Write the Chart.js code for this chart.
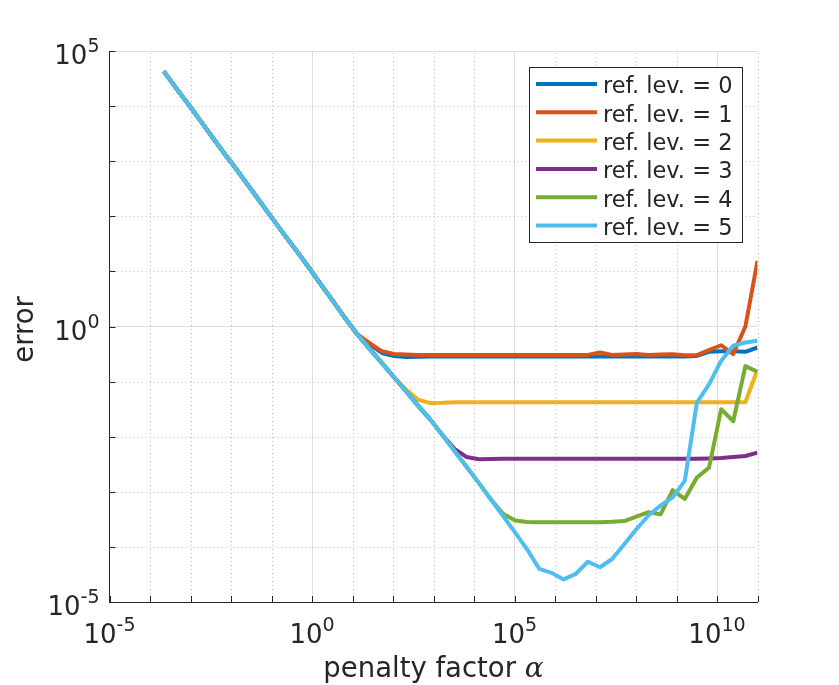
<!DOCTYPE html>
<html><head><meta charset="utf-8">
<script src="https://cdn.jsdelivr.net/npm/chart.js@4.4.1/dist/chart.umd.min.js"></script>
<style>html,body{margin:0;padding:0;background:#fff;}canvas{display:block;}</style>
</head><body>
<canvas id="c" width="839" height="685" style="width:839px;height:685px"></canvas>
<script>
// penalty factor alpha (x values)
const alpha = [2.19e-4, 4.36e-4, 8.68e-4, 1.73e-3, 3.44e-3, 6.85e-3, 1.37e-2, 2.72e-2, 5.41e-2, 0.108,
  0.215, 0.428, 0.851, 1.70, 3.38, 6.73, 13.4, 26.7, 53.1, 106,
  211, 420, 836, 1660, 3310, 6600, 1.31e4, 2.62e4, 5.21e4, 1.04e5,
  2.07e5, 4.12e5, 8.20e5, 1.63e6, 3.25e6, 6.48e6, 1.29e7, 2.57e7, 5.12e7, 1.02e8,
  2.03e8, 4.04e8, 8.05e8, 1.60e9, 3.19e9, 6.36e9, 1.27e10, 2.52e10, 5.02e10, 1.00e11];

// error for each refinement level
const lev0 = [4.27e4, 2.14e4, 1.10e4, 5.50e3, 2.75e3, 1.38e3, 708, 355, 178, 89.1,
  44.7, 22.9, 11.5, 5.62, 2.82, 1.38, 0.708, 0.468, 0.331, 0.292,
  0.279, 0.282, 0.285, 0.285, 0.285, 0.285, 0.285, 0.285, 0.285, 0.285,
  0.285, 0.285, 0.285, 0.285, 0.285, 0.285, 0.285, 0.285, 0.285, 0.285,
  0.285, 0.285, 0.285, 0.285, 0.292, 0.347, 0.355, 0.355, 0.347, 0.417];
const lev1 = [4.27e4, 2.14e4, 1.10e4, 5.50e3, 2.75e3, 1.38e3, 708, 355, 178, 89.1,
  44.7, 22.9, 11.5, 5.62, 2.82, 1.38, 0.708, 0.501, 0.355, 0.316,
  0.309, 0.305, 0.305, 0.305, 0.305, 0.305, 0.305, 0.305, 0.305, 0.305,
  0.305, 0.305, 0.305, 0.305, 0.305, 0.305, 0.339, 0.305, 0.309, 0.316,
  0.305, 0.309, 0.313, 0.302, 0.302, 0.372, 0.457, 0.316, 1.0, 15.5];
const lev2 = [4.27e4, 2.14e4, 1.10e4, 5.50e3, 2.75e3, 1.38e3, 708, 355, 178, 89.1,
  44.7, 22.9, 11.5, 5.62, 2.82, 1.38, 0.708, 0.389, 0.219, 0.120,
  0.0708, 0.0468, 0.0407, 0.0412, 0.0422, 0.0422, 0.0422, 0.0422, 0.0422, 0.0422,
  0.0422, 0.0422, 0.0422, 0.0422, 0.0422, 0.0422, 0.0422, 0.0422, 0.0422, 0.0422,
  0.0422, 0.0422, 0.0422, 0.0422, 0.0422, 0.0422, 0.0422, 0.0422, 0.0422, 0.166];
const lev3 = [4.27e4, 2.14e4, 1.10e4, 5.50e3, 2.75e3, 1.38e3, 708, 355, 178, 89.1,
  44.7, 22.9, 11.5, 5.62, 2.82, 1.38, 0.708, 0.389, 0.219, 0.120,
  0.0661, 0.0363, 0.0204, 0.0107, 0.00603, 0.00427, 0.00389, 0.00394, 0.00398, 0.00398,
  0.00398, 0.00398, 0.00398, 0.00398, 0.00398, 0.00398, 0.00398, 0.00398, 0.00398, 0.00398,
  0.00398, 0.00398, 0.00398, 0.00398, 0.00398, 0.00403, 0.00412, 0.00427, 0.00447, 0.00513];
const lev4 = [4.27e4, 2.14e4, 1.10e4, 5.50e3, 2.75e3, 1.38e3, 708, 355, 178, 89.1,
  44.7, 22.9, 11.5, 5.62, 2.82, 1.38, 0.708, 0.389, 0.219, 0.120,
  0.0661, 0.0363, 0.0204, 0.0107, 0.00550, 0.00282, 0.00145, 7.24e-4, 3.98e-4, 3.02e-4,
  2.82e-4, 2.79e-4, 2.79e-4, 2.79e-4, 2.79e-4, 2.79e-4, 2.79e-4, 2.85e-4, 2.95e-4, 3.55e-4,
  4.27e-4, 3.89e-4, 1.07e-3, 7.41e-4, 1.82e-3, 2.75e-3, 0.0316, 0.0191, 0.191, 0.151];
const lev5 = [4.27e4, 2.14e4, 1.10e4, 5.50e3, 2.75e3, 1.38e3, 708, 355, 178, 89.1,
  44.7, 22.9, 11.5, 5.62, 2.82, 1.38, 0.708, 0.389, 0.219, 0.120,
  0.0661, 0.0363, 0.0204, 0.0107, 0.00550, 0.00282, 0.00145, 7.24e-4, 3.63e-4, 1.82e-4,
  8.91e-5, 3.98e-5, 3.39e-5, 2.57e-5, 3.24e-5, 5.37e-5, 4.27e-5, 6.03e-5, 1.12e-4, 2.09e-4,
  3.72e-4, 5.62e-4, 7.94e-4, 1.58e-3, 0.0417, 0.0891, 0.240, 0.447, 0.513, 0.550];

const seriesValues = [lev0, lev1, lev2, lev3, lev4, lev5];
const seriesLabels = ['ref. lev. = 0', 'ref. lev. = 1', 'ref. lev. = 2', 'ref. lev. = 3', 'ref. lev. = 4', 'ref. lev. = 5'];
const seriesColors = ['#0072BD', '#D95319', '#EDB120', '#7E2F8E', '#77AC30', '#4DBEEE'];

// axis decades (exponents) and labelled ones
const xTickExp = [-5, -4, -3, -2, -1, 0, 1, 2, 3, 4, 5, 6, 7, 8, 9, 10, 11];
const xLabelExp = [-5, 0, 5, 10];
const yTickExp = [-5, -4, -3, -2, -1, 0, 1, 2, 3, 4, 5];
const yLabelExp = [-5, 0, 5];
const xTitle = 'penalty factor ';
const xTitleSym = 'α';
const yTitle = 'error';

const TXT = '#262626';
const FONT = '"DejaVu Sans", sans-serif';

function drawPow(ctx, exp, x, baseY, align) {
  const base = '10', sup = String(exp);
  ctx.font = '26px ' + FONT; const wb = ctx.measureText(base).width;
  ctx.font = '19px ' + FONT; const ws = ctx.measureText(sup).width;
  const total = wb + ws;
  const x0 = align === 'center' ? x - total / 2 : x - total;
  ctx.textAlign = 'left'; ctx.textBaseline = 'alphabetic';
  ctx.font = '26px ' + FONT; ctx.fillText(base, x0, baseY);
  ctx.font = '19px ' + FONT; ctx.fillText(sup, x0 + wb, baseY - 12);
}

const deco = {
  id: 'deco',
  beforeDatasetsDraw(chart) {
    const {ctx, chartArea: a, scales: {x, y}} = chart;
    ctx.save();
    ctx.strokeStyle = '#bdbdbd'; ctx.lineWidth = 1; ctx.setLineDash([1, 3]);
    xTickExp.forEach(e => {
      if (xLabelExp.includes(e)) return;
      const px = Math.round(x.getPixelForValue(Math.pow(10, e))) + 0.5;
      ctx.beginPath(); ctx.moveTo(px, a.bottom); ctx.lineTo(px, a.top); ctx.stroke();
    });
    yTickExp.forEach(e => {
      if (yLabelExp.includes(e)) return;
      const py = Math.round(y.getPixelForValue(Math.pow(10, e))) + 0.5;
      ctx.beginPath(); ctx.moveTo(a.left, py); ctx.lineTo(a.right, py); ctx.stroke();
    });
    ctx.restore();
  },
  afterDraw(chart) {
    const {ctx, chartArea: a, scales: {x, y}} = chart;
    ctx.save();
    // inward ticks
    ctx.strokeStyle = TXT; ctx.lineWidth = 1; ctx.setLineDash([]);
    xTickExp.forEach(e => {
      const px = Math.round(x.getPixelForValue(Math.pow(10, e))) + 0.5;
      ctx.beginPath(); ctx.moveTo(px, a.bottom); ctx.lineTo(px, a.bottom - 6); ctx.stroke();
    });
    yTickExp.forEach(e => {
      const py = Math.round(y.getPixelForValue(Math.pow(10, e))) + 0.5;
      ctx.beginPath(); ctx.moveTo(a.left, py); ctx.lineTo(a.left + 6, py); ctx.stroke();
    });
    // tick labels
    ctx.fillStyle = TXT;
    xLabelExp.forEach(e => drawPow(ctx, e, x.getPixelForValue(Math.pow(10, e)), a.bottom + 40.5, 'center'));
    yLabelExp.forEach(e => drawPow(ctx, e, a.left - 10, y.getPixelForValue(Math.pow(10, e)) + 13.3, 'right'));
    // x title
    ctx.font = '27.5px ' + FONT;
    const w1 = ctx.measureText(xTitle).width;
    ctx.font = 'italic 28px "DejaVu Serif", serif';
    const w2 = ctx.measureText(xTitleSym).width;
    const cx = (a.left + a.right) / 2;
    let tx = cx - (w1 + w2) / 2;
    ctx.textAlign = 'left'; ctx.textBaseline = 'alphabetic';
    ctx.font = '27.5px ' + FONT; ctx.fillText(xTitle, tx, 677);
    ctx.font = 'italic 28px "DejaVu Serif", serif'; ctx.fillText(xTitleSym, tx + w1, 677);
    // y title
    ctx.save();
    ctx.translate(33, (a.top + a.bottom) / 2 + 3);
    ctx.rotate(-Math.PI / 2);
    ctx.font = '27.5px ' + FONT; ctx.textAlign = 'center'; ctx.textBaseline = 'alphabetic';
    ctx.fillText(yTitle, 0, 0);
    ctx.restore();
    // legend
    const lx = 529.5, ly = 67.5, lw = 213, lh = 175;
    ctx.fillStyle = '#ffffff'; ctx.fillRect(lx, ly, lw, lh);
    ctx.strokeStyle = TXT; ctx.lineWidth = 1; ctx.strokeRect(lx, ly, lw, lh);
    chart.data.datasets.forEach((ds, i) => {
      const ry = 84 + i * 28.3;
      ctx.strokeStyle = ds.borderColor; ctx.lineWidth = 4; ctx.lineCap = 'butt';
      ctx.beginPath(); ctx.moveTo(536, ry); ctx.lineTo(597, ry); ctx.stroke();
      ctx.fillStyle = TXT; ctx.font = '22.5px ' + FONT; ctx.textAlign = 'left'; ctx.textBaseline = 'alphabetic';
      ctx.fillText(ds.label, 603, ry + 9.3);
    });
    ctx.restore();
  }
};

const isMajorX = v => xLabelExp.includes(Math.round(Math.log10(v)));
const isMajorY = v => yLabelExp.includes(Math.round(Math.log10(v)));

new Chart(document.getElementById('c'), {
  type: 'line',
  data: {
    datasets: seriesValues.map((vals, i) => ({
      label: seriesLabels[i],
      data: alpha.map((a, j) => ({x: a, y: vals[j]})),
      borderColor: seriesColors[i],
      backgroundColor: seriesColors[i],
      borderWidth: 4,
      pointRadius: 0,
      tension: 0,
      fill: false,
      borderJoinStyle: 'round',
      order: seriesValues.length - 1 - i
    }))
  },
  options: {
    responsive: false,
    animation: false,
    devicePixelRatio: 1,
    layout: {padding: {top: 51, right: 81.5, left: 0, bottom: 0}},
    plugins: {legend: {display: false}, tooltip: {enabled: false}},
    scales: {
      x: {
        type: 'logarithmic', position: 'bottom', min: 1e-5, max: 1e11,
        afterBuildTicks: s => { s.ticks = xTickExp.map(e => ({value: Math.pow(10, e)})); },
        afterFit: s => { s.height = 83; },
        ticks: {display: false},
        grid: {drawTicks: false, lineWidth: 1,
          color: c => (c.tick && isMajorX(c.tick.value)) ? '#dedede' : 'rgba(0,0,0,0)'},
        border: {display: true, color: TXT, width: 1}
      },
      y: {
        type: 'logarithmic', position: 'left', min: 1e-5, max: 1e5,
        afterBuildTicks: s => { s.ticks = yTickExp.map(e => ({value: Math.pow(10, e)})); },
        afterFit: s => { s.width = 109.5; },
        ticks: {display: false},
        grid: {drawTicks: false, lineWidth: 1,
          color: c => (c.tick && isMajorY(c.tick.value)) ? '#dedede' : 'rgba(0,0,0,0)'},
        border: {display: true, color: TXT, width: 1}
      }
    }
  },
  plugins: [deco]
});
</script>
</body></html>
